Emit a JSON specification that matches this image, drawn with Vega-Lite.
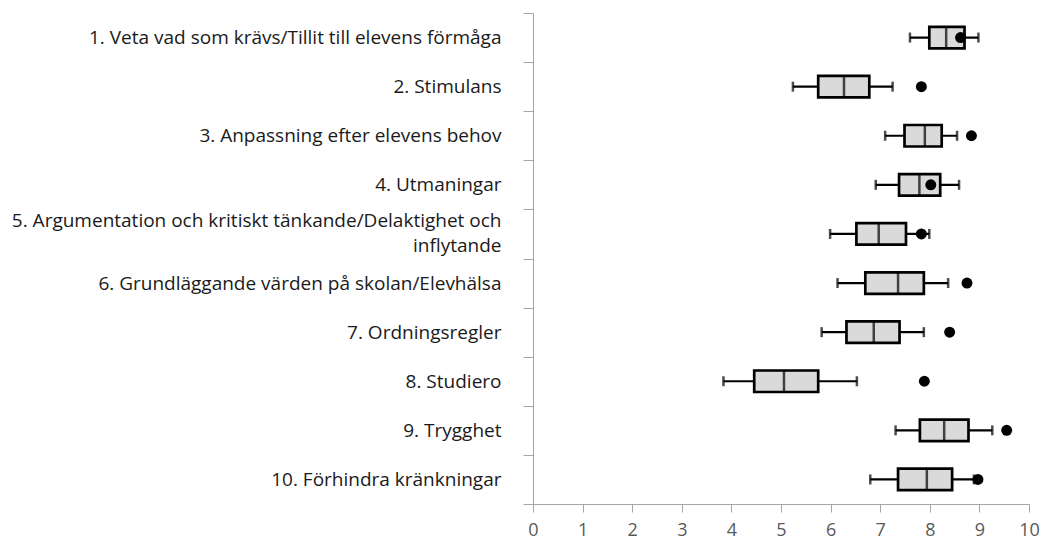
{
  "$schema": "https://vega.github.io/schema/vega-lite/v6.json",
  "autosize": {"type": "none"},
  "padding": {"left": 533, "top": 13, "right": 16, "bottom": 38},
  "width": 496,
  "height": 491,
  "background": "white",
  "config": {
    "view": {"stroke": null},
    "font": "Open Sans"
  },
  "data": {
    "values": [
      {"cat": "1. Veta vad som krävs/Tillit till elevens förmåga", "lo": 7.60, "q1": 7.99, "med": 8.33, "q3": 8.70, "hi": 8.98, "dot": 8.62},
      {"cat": "2. Stimulans", "lo": 5.24, "q1": 5.75, "med": 6.27, "q3": 6.78, "hi": 7.25, "dot": 7.83},
      {"cat": "3. Anpassning efter elevens behov", "lo": 7.10, "q1": 7.49, "med": 7.90, "q3": 8.24, "hi": 8.55, "dot": 8.84},
      {"cat": "4. Utmaningar", "lo": 6.91, "q1": 7.38, "med": 7.79, "q3": 8.21, "hi": 8.59, "dot": 8.02},
      {"cat": "5. Argumentation och kritiskt tänkande/Delaktighet och|inflytande", "lo": 5.99, "q1": 6.52, "med": 6.97, "q3": 7.52, "hi": 7.99, "dot": 7.83},
      {"cat": "6. Grundläggande värden på skolan/Elevhälsa", "lo": 6.14, "q1": 6.70, "med": 7.36, "q3": 7.88, "hi": 8.37, "dot": 8.75},
      {"cat": "7. Ordningsregler", "lo": 5.82, "q1": 6.32, "med": 6.87, "q3": 7.39, "hi": 7.88, "dot": 8.40},
      {"cat": "8. Studiero", "lo": 3.84, "q1": 4.46, "med": 5.06, "q3": 5.75, "hi": 6.53, "dot": 7.89},
      {"cat": "9. Trygghet", "lo": 7.31, "q1": 7.80, "med": 8.29, "q3": 8.78, "hi": 9.26, "dot": 9.55},
      {"cat": "10. Förhindra kränkningar", "lo": 6.80, "q1": 7.36, "med": 7.94, "q3": 8.45, "hi": 8.89, "dot": 8.97}
    ]
  },
  "layer": [
    {
      "mark": {"type": "rule", "color": "black", "strokeWidth": 2.2},
      "encoding": {
        "y": {
          "field": "cat",
          "type": "nominal",
          "sort": null,
          "title": null,
          "scale": {"paddingInner": 0, "paddingOuter": 0},
          "axis": {
            "tickBand": "extent",
            "domainColor": "#a6a6a6",
            "tickColor": "#a6a6a6",
            "tickSize": 10,
            "labelPadding": 22,
            "labelFontSize": 19,
            "labelColor": "#1a1a1a",
            "labelLimit": 600,
            "labelLineHeight": 25,
            "labelBaseline": {"condition": {"test": "length(split(datum.value, '|')) > 1", "value": "line-bottom"}, "value": "middle"},
            "labelExpr": "split(datum.label, '|')"
          }
        },
        "x": {
          "field": "lo",
          "type": "quantitative",
          "title": null,
          "scale": {"domain": [0, 10], "nice": false, "zero": true},
          "axis": {
            "values": [0, 1, 2, 3, 4, 5, 6, 7, 8, 9, 10],
            "grid": false,
            "domainColor": "#a6a6a6",
            "tickColor": "#a6a6a6",
            "tickSize": 8,
            "labelPadding": 9,
            "labelFontSize": 18,
            "labelColor": "#595959",
            "labelFlush": false
          }
        },
        "x2": {"field": "hi"}
      }
    },
    {
      "mark": {"type": "bar", "fill": "#dadada", "stroke": "black", "strokeWidth": 2.7, "height": 21.5},
      "encoding": {
        "y": {"field": "cat", "type": "nominal", "sort": null},
        "x": {"field": "q1", "type": "quantitative"},
        "x2": {"field": "q3"}
      }
    },
    {
      "mark": {"type": "tick", "color": "black", "thickness": 2.5, "size": 21.5},
      "encoding": {
        "y": {"field": "cat", "type": "nominal", "sort": null},
        "x": {"field": "med", "type": "quantitative"}
      }
    },
    {
      "mark": {"type": "tick", "color": "black", "thickness": 2.5, "size": 10},
      "encoding": {
        "y": {"field": "cat", "type": "nominal", "sort": null},
        "x": {"field": "lo", "type": "quantitative"}
      }
    },
    {
      "mark": {"type": "tick", "color": "black", "thickness": 2.5, "size": 10},
      "encoding": {
        "y": {"field": "cat", "type": "nominal", "sort": null},
        "x": {"field": "hi", "type": "quantitative"}
      }
    },
    {
      "mark": {"type": "circle", "color": "black", "opacity": 1, "size": 120},
      "encoding": {
        "y": {"field": "cat", "type": "nominal", "sort": null},
        "x": {"field": "dot", "type": "quantitative"}
      }
    }
  ]
}
